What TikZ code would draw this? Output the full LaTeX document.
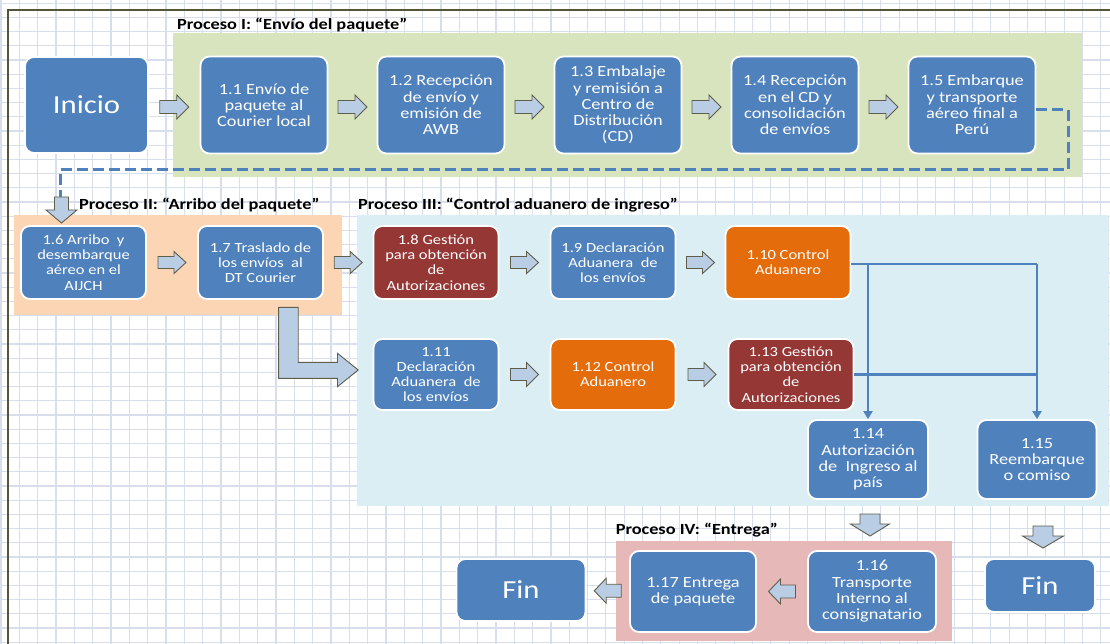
\documentclass[tikz,border=0pt]{standalone}
\usepackage{fontspec}
\setmainfont{Carlito}[FakeStretch=1.18]
\usetikzlibrary{calc,arrows.meta}
\definecolor{boxblue}{HTML}{4F81BD}
\definecolor{boxred}{HTML}{953735}
\definecolor{boxorange}{HTML}{E46C0A}
\definecolor{regiongreen}{HTML}{D7E4BD}
\definecolor{regionpeach}{HTML}{FCD5B5}
\definecolor{regionblue}{HTML}{DBEEF4}
\definecolor{regionpink}{HTML}{E6B9B8}
\definecolor{arrowfill}{HTML}{B9CDE5}
\definecolor{arrowedge}{HTML}{5E5E4A}
\definecolor{gridcol}{HTML}{D8DEEC}
\definecolor{framecol}{HTML}{55553C}
\tikzset{
  gridline/.style={gridcol, line width=1.2pt},
  box/.style={draw=white, line width=1.8pt, rounded corners=9pt, fill=boxblue,
    text=white, align=center, inner sep=0pt},
  bigtext/.style={font=\fontsize{15.5}{16.3}\selectfont},
  smalltext/.style={font=\fontsize{14}{15.3}\selectfont},
  hugetext/.style={font=\fontsize{26}{30}\selectfont},
  rowone/.style={box, bigtext, minimum width=127pt, minimum height=97pt},
  rowtwo/.style={box, smalltext, minimum width=125pt, minimum height=73pt},
  rowthree/.style={box, smalltext, minimum width=125pt, minimum height=71pt},
  proctitle/.style={font=\bfseries\fontsize{15.5}{18}\selectfont, anchor=west, inner sep=0pt},
  blockarrow/.style={fill=arrowfill, draw=arrowedge, line width=0.9pt, line join=miter},
  conn/.style={boxblue, line width=2.8pt},
  connarrow/.style={conn, -{Triangle[length=8pt,width=9pt]}},
  dashline/.style={boxblue, line width=3pt, dash pattern=on 11pt off 5pt},
  pics/rarr/.style n args={4}{code={
    \draw[blockarrow] ({-#1/2},{-#3/2}) -- ({#1/2-#4},{-#3/2}) -- ({#1/2-#4},{-#2/2})
      -- ({#1/2},0) -- ({#1/2-#4},{#2/2}) -- ({#1/2-#4},{#3/2}) -- ({-#1/2},{#3/2}) -- cycle;}},
  pics/larr/.style n args={4}{code={
    \draw[blockarrow] ({#1/2},{-#3/2}) -- ({-#1/2+#4},{-#3/2}) -- ({-#1/2+#4},{-#2/2})
      -- ({-#1/2},0) -- ({-#1/2+#4},{#2/2}) -- ({-#1/2+#4},{#3/2}) -- ({#1/2},{#3/2}) -- cycle;}},
  pics/darr/.style n args={4}{code={
    \draw[blockarrow] ({-#3/2},{-#1/2}) -- ({-#3/2},{#1/2-#4}) -- ({-#2/2},{#1/2-#4})
      -- (0,{#1/2}) -- ({#2/2},{#1/2-#4}) -- ({#3/2},{#1/2-#4}) -- ({#3/2},{-#1/2}) -- cycle;}},
}
\begin{document}
\begin{tikzpicture}[x=1pt,y=-1pt]
\useasboundingbox (0,0) rectangle (1110,644);
\fill[white] (0,0) rectangle (1110,644);
% grid
\foreach \i in {0,...,60} \draw[gridline] ({1+18.33*\i},0) -- ++(0,644);
\foreach \j in {0,...,45} \draw[gridline] (0,{3.2+14.2*\j}) -- ++(1110,0);
% frame
\draw[framecol, line width=2pt] (1110,10) -- (8,10) -- (8,644);
% regions
\fill[regiongreen] (172.5,33) rectangle (1082,177);
\fill[regionpeach] (13.6,215) rectangle (342,315);
\fill[regionblue] (357,215) rectangle (1108.6,506);
\fill[regionpink] (615.6,541) rectangle (952,641);
% titles
\node[proctitle] (t1) at (177,25) {Proceso I: “Envío del paquete”};
\node[proctitle] (t2) at (79,205) {Proceso II: “Arribo del paquete”};
\node[proctitle] (t3) at (358,205) {Proceso III: “Control aduanero de ingreso”};
\node[proctitle] (t4) at (615.6,530) {Proceso IV: “Entrega”};
% boxes row 1
\node[box, hugetext, minimum width=123pt, minimum height=96pt] (ini) at (86.5,105) {Inicio};
\node[rowone] (b11) at (264,105) {1.1 Envío de\\paquete al\\Courier local};
\node[rowone] (b12) at (441,105) {1.2 Recepción\\de envío y\\emisión de\\AWB};
\node[rowone] (b13) at (618,105) {1.3 Embalaje\\y remisión a\\Centro de\\Distribución\\(CD)};
\node[rowone] (b14) at (795,105) {1.4 Recepción\\en el CD y\\consolidación\\de envíos};
\node[rowone] (b15) at (972,105) {1.5 Embarque\\y transporte\\aéreo final a\\Perú};
% row 2
\node[rowtwo] (b16) at (83.5,262.5) {1.6 Arribo~ y\\desembarque\\aéreo en el\\AIJCH};
\node[rowtwo] (b17) at (260.5,262.5) {1.7 Traslado de\\los envíos~ al\\DT Courier};
\node[rowtwo, fill=boxred] (b18) at (436,262.5) {1.8 Gestión\\para obtención\\de\\Autorizaciones};
\node[rowtwo] (b19) at (613,262.5) {1.9 Declaración\\Aduanera~ de\\los envíos};
\node[rowtwo, fill=boxorange] (b110) at (788,262.5) {1.10 Control\\Aduanero};
% row 3
\node[rowthree] (b111) at (436,374.5) {1.11\\Declaración\\Aduanera~ de\\los envíos};
\node[rowthree, fill=boxorange] (b112) at (613,374.5) {1.12 Control\\Aduanero};
\node[rowthree, fill=boxred] (b113) at (791,374.5) {1.13 Gestión\\para obtención\\de\\Autorizaciones};
% row 4
\node[box, bigtext, minimum width=120pt, minimum height=79pt] (b114) at (868,459.5) {1.14\\Autorización\\de~ Ingreso al\\país};
\node[box, bigtext, minimum width=119pt, minimum height=79pt] (b115) at (1037,459.5) {1.15\\Reembarque\\o comiso};
% row 5
\node[box, bigtext, minimum width=126pt, minimum height=81pt] (b117) at (693,591.5) {1.17 Entrega\\de paquete};
\node[box, bigtext, minimum width=128pt, minimum height=81pt] (b116) at (872,591.5) {1.16\\Transporte\\Interno al\\consignatario};
\node[box, hugetext, minimum width=129pt, minimum height=62pt] (fin1) at (521,590) {Fin};
\node[box, hugetext, minimum width=110pt, minimum height=53pt] (fin2) at (1040,585.5) {Fin};
% block arrows row 1
\pic at ($(ini.east)!0.5!(b11.west)+(0,2)$) {rarr={29}{24}{13}{12}};
\pic at ($(b11.east)!0.5!(b12.west)+(0,2)$) {rarr={29}{24}{13}{12}};
\pic at ($(b12.east)!0.5!(b13.west)+(0,2)$) {rarr={29}{24}{13}{12}};
\pic at ($(b13.east)!0.5!(b14.west)+(0,2)$) {rarr={29}{24}{13}{12}};
\pic at ($(b14.east)!0.5!(b15.west)+(0,2)$) {rarr={29}{24}{13}{12}};
% row 2
\pic at ($(b16.east)!0.5!(b17.west)$) {rarr={28}{22}{12}{12}};
\pic at ($(b17.east)!0.5!(b18.west)$) {rarr={28}{22}{12}{12}};
\pic at ($(b18.east)!0.5!(b19.west)$) {rarr={28}{22}{12}{12}};
\pic at ($(b19.east)!0.5!(b110.west)$) {rarr={28}{22}{12}{12}};
% row 3
\pic at ($(b111.east)!0.5!(b112.west)$) {rarr={28}{24}{12}{12}};
\pic at ($(b112.east)!0.5!(b113.west)$) {rarr={28}{24}{12}{12}};
% row 5
\pic at ($(b116.west)!0.5!(b117.east)$) {larr={27}{25}{13}{12}};
\pic at ($(b117.west)!0.5!(fin1.east)$) {larr={27}{25}{13}{12}};
% down arrows
\pic at (61.5,210) {darr={26}{31}{14}{13}};
\pic at ($(b114.south)!0.5!(b116.north)$) {darr={22}{39}{20}{12}};
\pic at (1043,537) {darr={22}{41}{20}{12}};
% L-shaped arrow from 1.7 to 1.11
\draw[blockarrow] (278.6,307.3) -- (298.2,307.3) -- (298.2,362.3) -- (337.5,362.3)
  -- (337.5,353.3) -- (358.2,370) -- (337.5,386.7) -- (337.5,378.3) -- (278.6,378.3) -- cycle;
% dashed connector 1.5 -> 1.6
\coordinate (dA) at (1068,110);
\coordinate (dB) at (1068,170);
\coordinate (dC) at (60,170);
\coordinate (dD) at (60,197);
\draw[dashline] ($(b15.east)+(0,5)$) -- (dA) -- (dB) -- (dC) -- (dD);
% decision connectors
\coordinate (jA) at (b114.north |- 0,264);
\coordinate (jB) at (b115.north |- 0,264);
\coordinate (jC) at (b115.north |- b113.east);
\draw[conn] (b110.east |- jA) -- (jB);
\draw[conn] (b113.east) -- (jC);
\draw[connarrow] (jA) -- (b114.north);
\draw[connarrow] (jB) -- (b115.north);
\end{tikzpicture}
\end{document}
